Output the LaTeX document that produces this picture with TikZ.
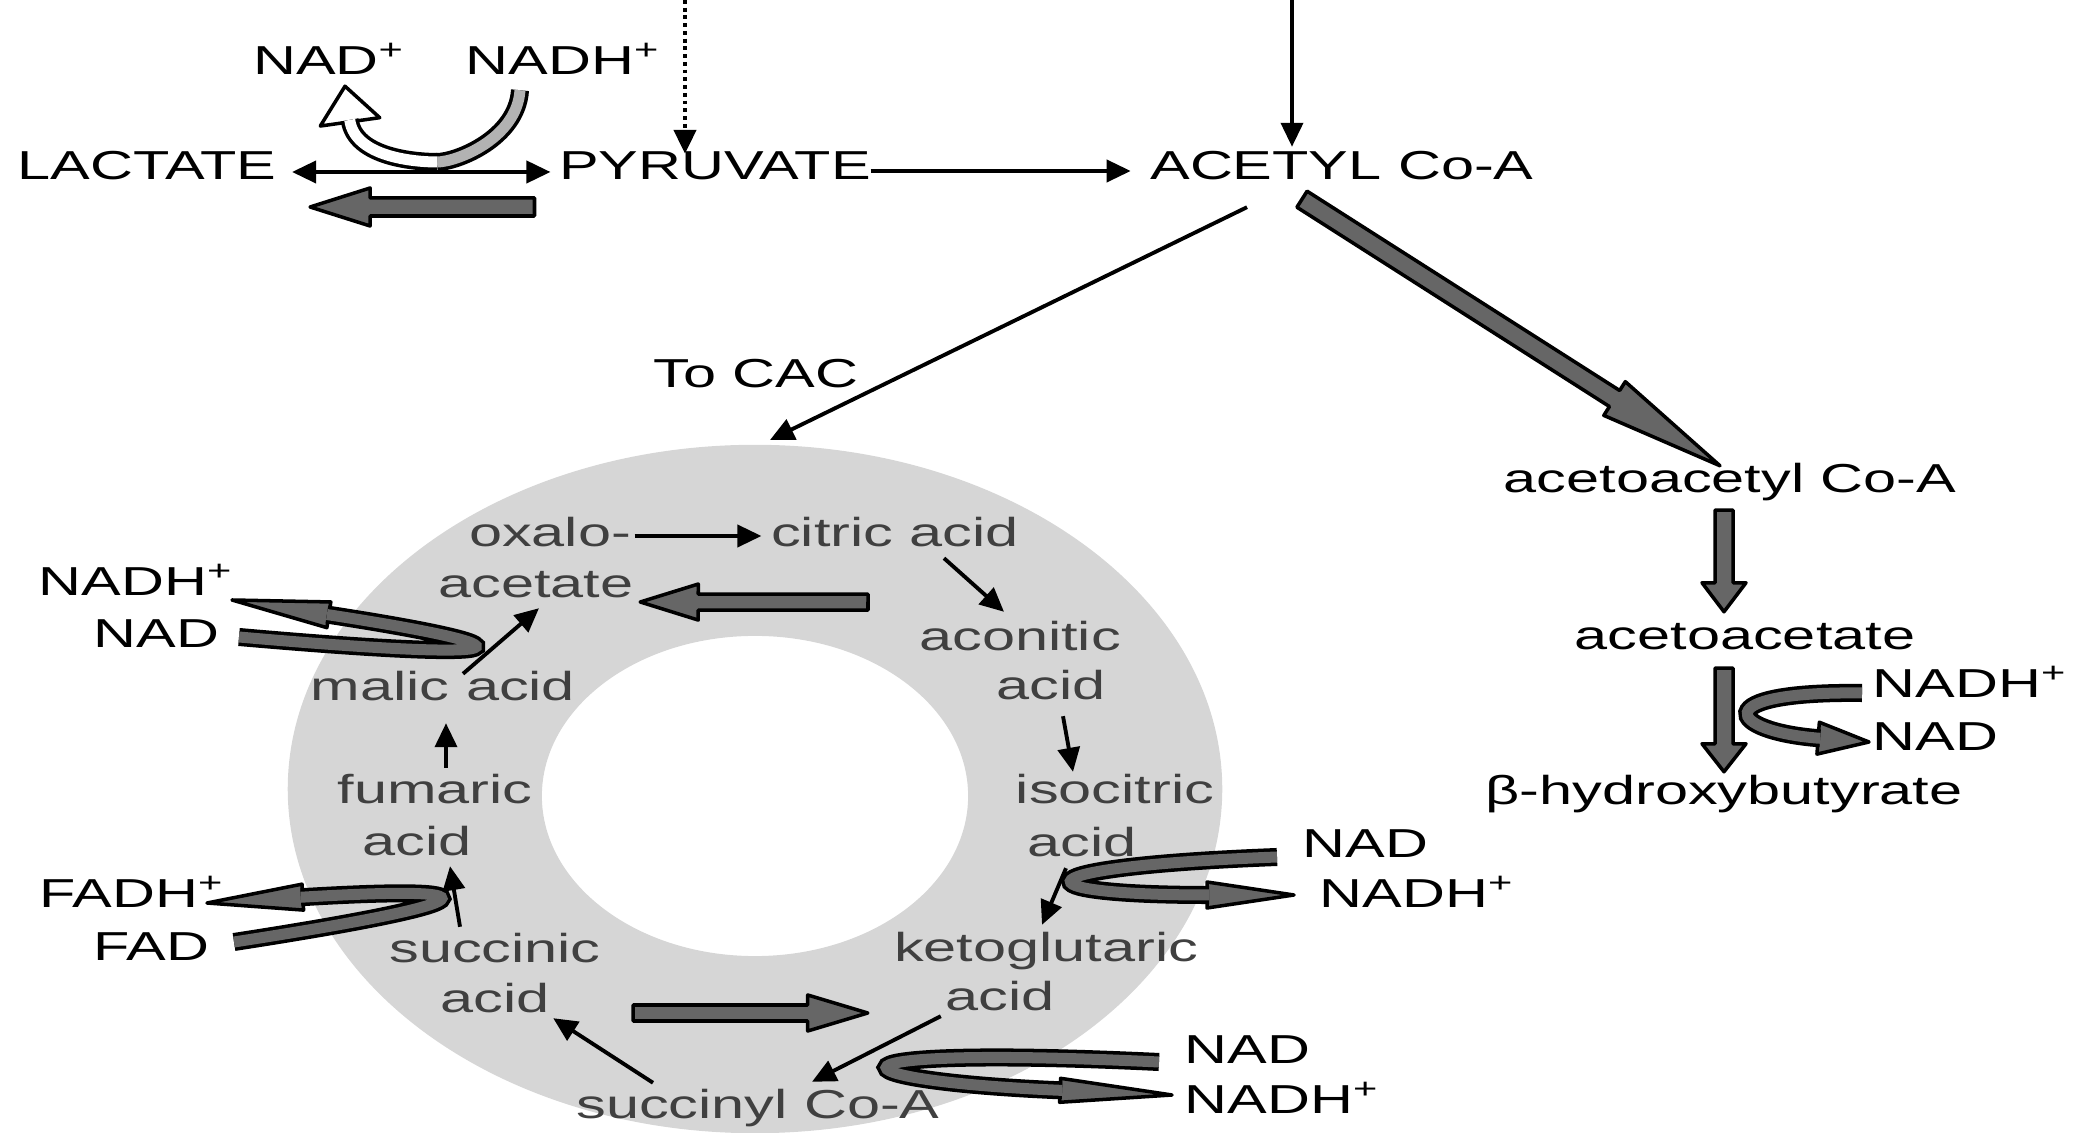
\documentclass[tikz,border=0pt]{standalone}
\usepackage{fontspec}
\setmainfont{Liberation Sans}[FakeStretch=1.47]
\usepackage{tikz}
\usetikzlibrary{arrows.meta, calc, positioning}
\definecolor{bandgray}{gray}{0.4}
\definecolor{lightband}{gray}{0.7}
\definecolor{ringgray}{gray}{0.84}
\tikzset{>={Triangle[length=0.24cm,width=0.22cm]}}
\tikzset{
  lbl/.style={inner sep=0.03cm, text height=0.29cm, text depth=0.08cm, font=\fontsize{11.5}{13}\selectfont},
  cyc/.style={lbl, text=black!75},
  flow/.style={->, line width=1.1pt},
  cofband/.style={line width=1pt, double=bandgray, double distance=0.11cm}
}
% straight block arrow: [fill]{tail}{tip}{head length}{head half width}{shaft half width}
\newcommand{\blockarrow}[6][bandgray]{%
  \coordinate (ba-t) at #2;
  \coordinate (ba-h) at #3;
  \coordinate (ba-b) at ($(ba-h)!#4!(ba-t)$);
  \filldraw[fill=#1, line width=1pt, line join=round]
    ($(ba-t)!#6!90:(ba-h)$) -- ($(ba-b)!#6!90:(ba-h)$) -- ($(ba-b)!#5!90:(ba-h)$) -- (ba-h)
    -- ($(ba-b)!#5!-90:(ba-h)$) -- ($(ba-b)!#6!-90:(ba-h)$) -- ($(ba-t)!#6!-90:(ba-h)$) -- cycle;}
% head of a curved band: [fill]{tip}{back angle}{length}{half width}
\newcommand{\bandhead}[5][bandgray]{%
  \filldraw[fill=#1, line width=1pt, line join=round]
    ($#2+(#3:#4)+({#3+90}:#5)$) -- #2 -- ($#2+(#3:#4)+({#3-90}:#5)$) -- cycle;}

\begin{document}
\begin{tikzpicture}[x=0.01cm, y=0.01cm]
\useasboundingbox (0,0) rectangle (2090,1133);

% citric acid cycle ring
\fill[ringgray, even odd rule] (755,344) ellipse [x radius=4.67cm, y radius=3.44cm]
  (755,337) ellipse [x radius=2.13cm, y radius=1.6cm];

% top row
\node[lbl] (lact) at (147,964) {LACTATE};
\node[lbl] (pyr) at (715,964) {PYRUVATE};
\node[lbl] (acoa) at (1342,964) {ACETYL Co-A};
\node[lbl] (nadp) at (329,1069) {NAD\textsuperscript{+}};
\node[lbl] (nadhp) at (563,1069) {NADH\textsuperscript{+}};
\node[lbl] (tocac) at (756,756) {To CAC};

% ketone bodies
\node[lbl] (acac) at (1730,651) {acetoacetyl Co-A};
\node[lbl] (acet) at (1745,494) {acetoacetate};
\node[lbl] (bhb) at (1724,339) {β-hydroxybutyrate};
\node[lbl, anchor=west] (nadhR) at (1869,446) {NADH\textsuperscript{+}};
\node[lbl, anchor=west] (nadR) at (1869,393) {NAD};

% cycle members
\node[cyc] (oxalo) at (550,597) {oxalo-};
\node[cyc] (acetate) at (536,546) {acetate};
\node[cyc] (citric) at (895,597) {citric acid};
\node[cyc] (aconitic) at (1020,493) {aconitic};
\node[cyc] (acid1) at (1051,444) {acid};
\node[cyc] (isocitric) at (1115,340) {isocitric};
\node[cyc] (acid2) at (1082,287) {acid};
\node[cyc] (keto) at (1046,182) {ketoglutaric};
\node[cyc] (acid3) at (1000,133) {acid};
\node[cyc] (succoa) at (758,25) {succinyl Co-A};
\node[cyc] (succinic) at (495,181) {succinic};
\node[cyc] (acid4) at (495,131) {acid};
\node[cyc] (fumaric) at (435,340) {fumaric};
\node[cyc] (acid5) at (417,288) {acid};
\node[cyc] (malic) at (443,443) {malic acid};

% cofactors
\node[lbl, anchor=east] (nadhL) at (237,548) {NADH\textsuperscript{+}};
\node[lbl, anchor=east] (nadL) at (223,496) {NAD};
\node[lbl, anchor=east] (fadhL) at (228,236) {FADH\textsuperscript{+}};
\node[lbl, anchor=east] (fadL) at (213,183) {FAD};
\node[lbl, anchor=west] (nadI) at (1299,286) {NAD};
\node[lbl, anchor=west] (nadhI) at (1316,236) {NADH\textsuperscript{+}};
\node[lbl, anchor=west] (nadK) at (1181,80) {NAD};
\node[lbl, anchor=west] (nadhK) at (1181,30) {NADH\textsuperscript{+}};

\coordinate (glyco) at (685,1133);
\coordinate (fatin) at (1292,1133);
\coordinate (cac) at (770,693);
\coordinate (ubot) at (437,971);
\coordinate (wtip) at ($(nadp.south)+(16,0)$);
\coordinate (h1) at ($(nadhL.east)+(-5,-15)$);
\coordinate (h2) at ($(fadhL.east)+(-21,-6)$);
\coordinate (h3) at ($(nadhI.west)+(-22,2)$);
\coordinate (h4) at ($(nadhK.west)+(-9,8)$);
\coordinate (kt) at ($(nadR.west)+(0,-2)$);

% block arrows
\blockarrow{($(pyr.west)+(-21,-38)$)}{($(lact.east)+(30,-38)$)}{0.6cm}{0.19cm}{0.09cm}
\blockarrow{($(acoa.south)+(-40,-8)$)}{($(acac.north)+(-10,-6)$)}{1.25cm}{0.2cm}{0.095cm}
\blockarrow{($(acac.south)+(-6,-6)$)}{($(acet.north)+(-21,5)$)}{0.29cm}{0.22cm}{0.09cm}
\blockarrow{($(acet.south)+(-21,-7)$)}{(bhb.north)}{0.28cm}{0.22cm}{0.09cm}
\blockarrow{($(citric.south)+(-27,-44)$)}{($(acetate.east)+(3,-15)$)}{0.58cm}{0.18cm}{0.08cm}
\blockarrow{($(acid4.east)+(80,-11)$)}{($(acid3.west)+(-74,-13)$)}{0.6cm}{0.18cm}{0.08cm}

% NADH / NAD+ turn at lactate
\draw[cofband, double=lightband] ($(nadhp.south)+(-43,-4)$) .. controls +(-3,-48) and +(20,0) .. (ubot);
\bandhead[white]{(wtip)}{-82}{36}{30}
\draw[cofband, double=white] (ubot) .. controls +(-20,0) and +(5,-38) .. ($(wtip)+(-82:34)$);

% cofactor loops
\bandhead{(h1)}{-8.7}{98}{13}
\draw[cofband] ($(nadL.east)+(16,0)$) .. controls +(296,-26) and +(215,-33) .. ($(h1)+(-8.7:96)$);
\bandhead{(h2)}{3.5}{96}{13}
\draw[cofband] ($(fadL.east)+(21,8)$) .. controls +(266,41) and +(197,12) .. ($(h2)+(3.5:94)$);
\bandhead{(h3)}{180}{87}{13}
\draw[cofband] ($(nadI.west)+(-22,-10)$) .. controls +(-263,-10) and +(-195,0) .. ($(h3)+(180:85)$);
\bandhead{(h4)}{177.6}{112}{12}
\draw[cofband] ($(nadK.west)+(-22,-9)$) .. controls +(-357,17) and +(-239,10) .. ($(h4)+(177.6:110)$);
\bandhead{(kt)}{175.7}{51}{16}
\draw[cofband] ($(nadhR.west)+(-7,-6)$) .. controls +(-156,2) and +(-94,7) .. ($(kt)+(175.7:49)$);

% thin arrows
\draw[flow, line width=1.3pt, dash pattern=on 1.1pt off 1.1pt, shorten >=-0.07cm] (glyco) -- (glyco |- pyr.north);
\draw[flow] (fatin) -- (fatin |- acoa.north);
\draw[<->, line width=1.1pt] ($(lact.east)+(12,-3)$) -- ($(pyr.west)+(-5,-3)$);
\draw[flow] ($(pyr.east)+(-4,-2)$) -- ($(acoa.west)+(-16,-2)$);
\draw[flow] ($(acoa.south)+(-95,-16)$) -- (cac);

\draw[flow] (oxalo.east) -- ($(citric.west)+(-6,0)$);
\draw[flow] ($(citric.south)+(49,0)$) -- ($(aconitic.north)+(-16,6)$);
\draw[flow] ($(acid1.south)+(12,-5)$) -- ($(isocitric.north)+(-42,-1)$);
\draw[flow] ($(acid2.south)+(-16,0)$) -- ($(keto.north)+(-4,4)$);
\draw[flow] ($(acid3.south west)+(-1,6)$) -- ($(succoa.north)+(54,4)$);
\draw[flow] ($(succoa.north)+(-105,3)$) -- ($(acid4.south east)+(0,6)$);
\draw[flow] ($(succinic.north)+(-35,3)$) -- ($(acid5.south)+(33,1)$);
\draw[flow] ($(fumaric.north)+(11,3)$) -- ($(malic.south)+(3,-11)$);
\draw[flow] ($(malic.north)+(20,-6)$) -- ($(acetate.south)+(3,1)$);

\end{tikzpicture}
\end{document}
